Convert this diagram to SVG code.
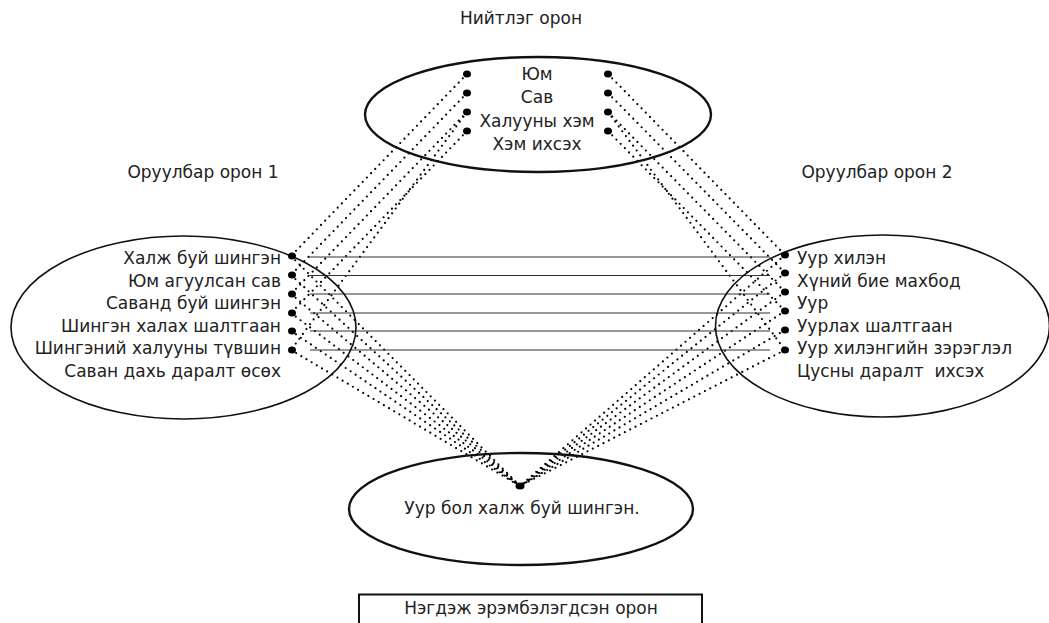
<svg xmlns="http://www.w3.org/2000/svg" width="1049" height="623" viewBox="0 0 1049 623">
<style>
text{font-family:"DejaVu Sans","Liberation Sans",sans-serif;font-size:17px;fill:#222}
.sp{fill:none;stroke:#111;stroke-width:2.4}
.spt{fill:none;stroke:#111;stroke-width:1.6}
.dot{fill:#000}
.dl{fill:none;stroke:#000;stroke-width:2.2;stroke-dasharray:0 6;stroke-linecap:round}
.hl{fill:none;stroke:#333;stroke-width:1}
.m{text-anchor:middle}
.e{text-anchor:end}
</style>
<g id="connectors">
<path class="dl" d="M467,74 L291,256 M467,93 L291,275 M467,112 L291,294 M467,131 L291,313 M467,112 L291,350"/>
<path class="dl" d="M608,74 L785,255 M608,93 L785,273 M608,112 L785,292 M608,131 L785,311 M608,112 L785,350"/>
<path class="dl" d="M291,256 L520,486 M291,275 L520,486 M291,294 L520,486 M291,313 L520,486 M291,331 L520,486 M291,350 L520,486"/>
<path class="dl" d="M785,255 L520,486 M785,273 L520,486 M785,292 L520,486 M785,311 L520,486 M785,330 L520,486 M785,350 L520,486"/>
<path class="hl" d="M308,257 H770 M310,275.5 H770 M310,294 H770 M310,313 H770 M310,331 H770 M310,350 H770"/>
</g>
<g id="generic">
<text class="m" x="521" y="24">Нийтлэг орон</text>
<ellipse class="sp" cx="538" cy="114.5" rx="173" ry="57.5"/>
<text class="m" x="537" y="80">Юм</text>
<text class="m" x="537" y="103">Сав</text>
<text class="m" x="537" y="126.5">Халууны хэм</text>
<text class="m" x="537" y="150">Хэм ихсэх</text>
<g class="dot">
<ellipse cx="467" cy="74" rx="4" ry="3.5"/><ellipse cx="467" cy="93" rx="4" ry="3.5"/><ellipse cx="467" cy="112" rx="4" ry="3.5"/><ellipse cx="467" cy="131" rx="4" ry="3.5"/>
<ellipse cx="608" cy="74" rx="4" ry="3.5"/><ellipse cx="608" cy="93" rx="4" ry="3.5"/><ellipse cx="608" cy="112" rx="4" ry="3.5"/><ellipse cx="608" cy="131" rx="4" ry="3.5"/>
</g>
</g>
<g id="input1">
<text class="m" x="203" y="178">Оруулбар орон 1</text>
<ellipse class="spt" cx="183.5" cy="327.5" rx="172.5" ry="91.5"/>
<text class="e" x="281" y="264">Халж буй шингэн</text>
<text class="e" x="281" y="286.6">Юм агуулсан сав</text>
<text class="e" x="281" y="309.2">Саванд буй шингэн</text>
<text class="e" x="281" y="331.8">Шингэн халах шалтгаан</text>
<text class="e" x="281" y="354.4">Шингэний халууны түвшин</text>
<text class="e" x="281" y="377">Саван дахь даралт өсөх</text>
<g class="dot">
<ellipse cx="292" cy="256" rx="4" ry="3.5"/><ellipse cx="292" cy="275" rx="4" ry="3.5"/><ellipse cx="292" cy="294" rx="4" ry="3.5"/><ellipse cx="292" cy="313" rx="4" ry="3.5"/><ellipse cx="292" cy="331" rx="4" ry="3.5"/><ellipse cx="292" cy="350" rx="4" ry="3.5"/>
</g>
</g>
<g id="input2">
<text class="m" x="877" y="178">Оруулбар орон 2</text>
<ellipse class="spt" cx="882.5" cy="326" rx="167" ry="91"/>
<text x="797" y="264">Уур хилэн</text>
<text x="797" y="286.6">Хүний бие махбод</text>
<text x="797" y="309.2">Уур</text>
<text x="797" y="331.8">Уурлах шалтгаан</text>
<text x="797" y="354.4">Уур хилэнгийн зэрэглэл</text>
<text x="797" y="377" xml:space="preserve">Цусны даралт  ихсэх</text>
<g class="dot">
<ellipse cx="785" cy="255" rx="4" ry="3.5"/><ellipse cx="785" cy="273" rx="4" ry="3.5"/><ellipse cx="785" cy="292" rx="4" ry="3.5"/><ellipse cx="785" cy="311" rx="4" ry="3.5"/><ellipse cx="785" cy="330" rx="4" ry="3.5"/><ellipse cx="785" cy="350" rx="4" ry="3.5"/>
</g>
</g>
<g id="blend">
<ellipse class="sp" cx="521" cy="509" rx="172" ry="56"/>
<text class="m" x="522" y="514">Уур бол халж буй шингэн.</text>
<ellipse class="dot" cx="520" cy="486" rx="4.5" ry="3.5"/>
</g>
<g id="label">
<rect x="359" y="594.5" width="343" height="40" fill="none" stroke="#111" stroke-width="2"/>
<text class="m" x="531" y="614">Нэгдэж эрэмбэлэгдсэн орон</text>
</g>
</svg>
